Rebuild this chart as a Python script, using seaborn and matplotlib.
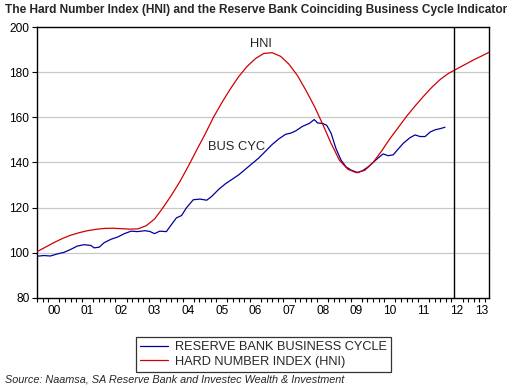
import matplotlib
matplotlib.use("Agg")
import matplotlib.pyplot as plt
from matplotlib.ticker import MultipleLocator, FixedLocator
import numpy as np
import pandas as pd
import seaborn as sns

# HNI (red, smooth) - decimal years and index values
hni_t = [2000.0, 2000.25, 2000.5, 2000.75, 2001.0, 2001.25, 2001.5, 2001.75,
         2002.0, 2002.25, 2002.5, 2002.75, 2003.0, 2003.25, 2003.5, 2003.75,
         2004.0, 2004.25, 2004.5, 2004.75, 2005.0, 2005.25, 2005.5, 2005.75,
         2006.0, 2006.25, 2006.5, 2006.75, 2007.0, 2007.25, 2007.5, 2007.75,
         2008.0, 2008.25, 2008.5, 2008.75, 2009.0, 2009.25, 2009.5, 2009.75,
         2010.0, 2010.25, 2010.5, 2010.75, 2011.0, 2011.25, 2011.5, 2011.75,
         2012.0, 2012.25, 2012.5, 2012.75, 2013.0, 2013.25, 2013.45]
hni_v = [100.5, 102.5, 104.5, 106.3, 107.8, 108.9, 109.8, 110.4,
         110.8, 110.9, 110.7, 110.5, 110.6, 112.0, 115.0, 120.0,
         125.5, 131.5, 138.3, 145.5, 152.5, 160.0, 166.5, 172.5,
         178.0, 182.5, 186.0, 188.3, 188.6, 187.0, 183.5, 178.5,
         172.0, 165.0, 157.0, 148.5, 141.0, 137.0, 135.5, 136.5,
         140.0, 145.0, 150.5, 155.5, 160.5, 165.0, 169.3, 173.3,
         176.8, 179.5, 181.5, 183.5, 185.5, 187.3, 188.8]

# Reserve Bank coinciding business cycle indicator (blue)
bus_t = [2000.0, 2000.2, 2000.4, 2000.6, 2000.8, 2001.0, 2001.2, 2001.4,
         2001.6, 2001.7, 2001.85, 2002.0, 2002.2, 2002.4, 2002.6, 2002.8,
         2003.0, 2003.2, 2003.35, 2003.5, 2003.65, 2003.85, 2004.0, 2004.15,
         2004.3, 2004.45, 2004.65, 2004.85, 2005.05, 2005.2, 2005.4, 2005.6,
         2005.8, 2006.0, 2006.2, 2006.4, 2006.6, 2006.8, 2007.0, 2007.2,
         2007.4, 2007.55, 2007.7, 2007.9, 2008.1, 2008.25, 2008.35, 2008.5,
         2008.62, 2008.75, 2008.9, 2009.05, 2009.2, 2009.35, 2009.55, 2009.7,
         2009.85, 2010.0, 2010.15, 2010.3, 2010.45, 2010.6, 2010.75, 2010.9,
         2011.1, 2011.25, 2011.4, 2011.55, 2011.7, 2011.85, 2012.0, 2012.14]
bus_v = [98.5, 98.8, 98.6, 99.5, 100.2, 101.5, 103.0, 103.6,
         103.3, 102.2, 102.5, 104.5, 106.0, 107.0, 108.5, 109.6,
         109.4, 109.8, 109.5, 108.5, 109.6, 109.4, 112.5, 115.5,
         116.5, 120.0, 123.5, 123.8, 123.3, 125.0, 128.0, 130.5,
         132.5, 134.5, 137.0, 139.5, 142.0, 145.0, 148.0, 150.5,
         152.5, 153.0, 154.0, 156.0, 157.3, 159.0, 157.5, 157.3,
         156.5, 153.0, 146.0, 141.0, 138.0, 136.6, 135.5, 136.5,
         138.0, 140.0, 142.0, 143.8, 143.0, 143.4, 146.0, 148.5,
         151.0, 152.2, 151.5, 151.5, 153.5, 154.5, 155.0, 155.6]

year_labels = ["00", "01", "02", "03", "04", "05", "06", "07",
               "08", "09", "10", "11", "12", "13"]
label_pos = [2000.5 + i for i in range(13)] + [2013.23]
forecast_line = 2012.41

sns.set_theme(style="white")
plt.rcParams['font.family'] = ['Liberation Sans', 'DejaVu Sans']

fig = plt.figure(figsize=(5.18, 3.88), dpi=100)
ax = fig.add_axes([37 / 518, 90 / 388, 452 / 518, 271 / 388])

hni_df = pd.DataFrame({'t': hni_t, 'v': hni_v})
bus_df = pd.DataFrame({'t': bus_t, 'v': bus_v})

sns.lineplot(data=bus_df, x='t', y='v', ax=ax, color='#0000a0', linewidth=0.9,
             estimator=None, label='RESERVE BANK BUSINESS CYCLE', zorder=3)
sns.lineplot(data=hni_df, x='t', y='v', ax=ax, color='#d00000', linewidth=0.9,
             estimator=None, label='HARD NUMBER INDEX (HNI)', zorder=3)

ax.axvline(forecast_line, color='black', linewidth=1.0, zorder=4)

ax.set_xlim(2000.0, 2013.45)
ax.set_ylim(80, 200)
ax.set_yticks([80, 100, 120, 140, 160, 180, 200])
for gy in [100, 120, 140, 160, 180]:
    ax.axhline(gy, color='#c8c8c8', linewidth=0.9, zorder=1)

ax.xaxis.set_major_locator(FixedLocator(label_pos))
ax.set_xticklabels(year_labels)
ax.xaxis.set_minor_locator(MultipleLocator(1 / 6))
ax.tick_params(axis='x', which='major', length=0, pad=5, labelsize=8.6, colors='black')
ax.tick_params(axis='x', which='minor', length=3, width=0.8, direction='out',
               bottom=True, color='black')
ax.tick_params(axis='y', which='major', length=3.5, width=0.8, direction='out',
               left=True, pad=2, labelsize=8.6, colors='black')
ax.set_xlabel('')
ax.set_ylabel('')

for s in ax.spines.values():
    s.set_color('black')
    s.set_linewidth(1.0)

ax.text(6.67 + 2000, 192.5, 'HNI', ha='center', va='center', fontsize=9.3)
ax.text(5.95 + 2000, 146.9, 'BUS CYC', ha='center', va='center', fontsize=9.3)

ax.get_legend().remove()
handles, labels = ax.get_legend_handles_labels()
leg = fig.legend(handles, labels, loc='center', bbox_to_anchor=(263.5 / 518, 33.5 / 388),
                 frameon=True, fancybox=False, fontsize=9.2, handlelength=2.2,
                 handletextpad=0.5, borderpad=0.3, labelspacing=0.2, borderaxespad=0)
leg.get_frame().set_edgecolor('black')
leg.get_frame().set_linewidth(0.9)

fig.text(5 / 518, 1 - 10 / 388, 'The Hard Number Index (HNI) and the Reserve Bank Coinciding Business Cycle Indicator',
         ha='left', va='center', fontsize=8.6, fontweight='bold')
fig.text(5 / 518, 1 - 379 / 388, 'Source: Naamsa, SA Reserve Bank and Investec Wealth & Investment',
         ha='left', va='center', fontsize=7.8, style='italic')

fig.savefig('out.png', dpi=100)
